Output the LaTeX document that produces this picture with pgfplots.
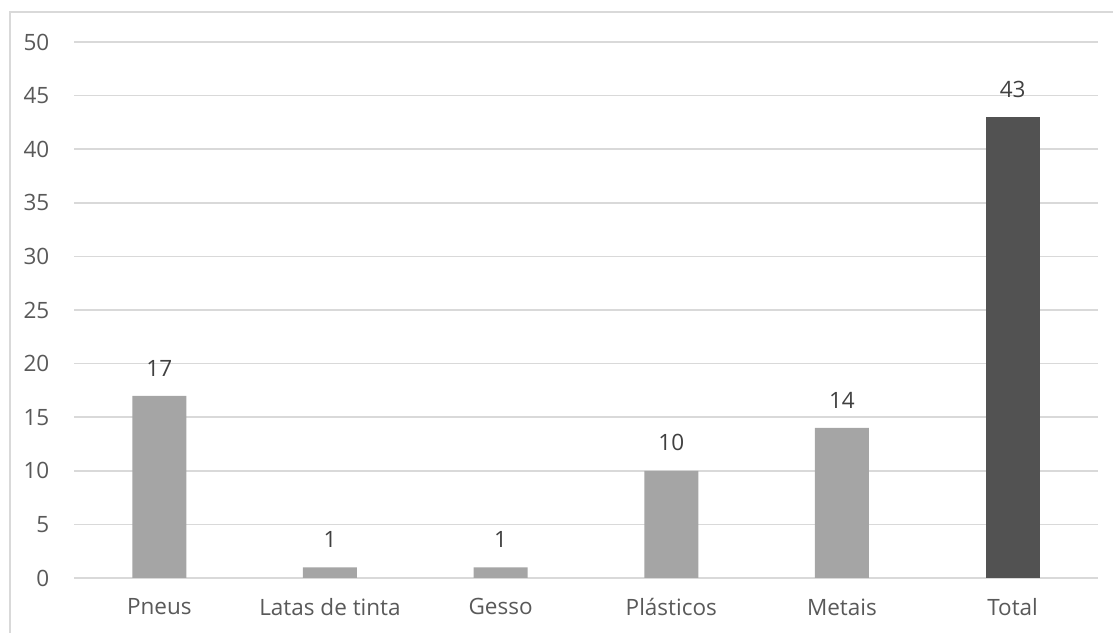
\documentclass[border=0pt]{standalone}
\usepackage{pgfplots}
\pgfplotsset{compat=1.18}
\usepackage{fontspec}
\setmainfont{Open Sans}
\definecolor{gridc}{HTML}{D9D9D9}
\definecolor{txt}{HTML}{595959}
\definecolor{lab}{HTML}{404040}
\definecolor{barA}{HTML}{A5A5A5}
\definecolor{barB}{HTML}{525252}
\newcommand{\cf}{\fontsize{22.5bp}{27bp}\selectfont}
\begin{document}
\cf
\begin{tikzpicture}
\useasboundingbox (0,0) rectangle (1113bp,633bp);
\draw[gridc, line width=1.5bp] (10bp,0) -- (10bp,621bp) -- (1113bp,621bp);
\begin{axis}[
  at={(74bp,55bp)}, anchor=south west,
  scale only axis, width=1024bp, height=536bp,
  xmin=-0.5, xmax=5.5, ymin=0, ymax=50,
  ytick={0,5,...,50},
  xtick={0,1,2,3,4,5},
  xticklabels={Pneus, Latas de tinta, Gesso, Plásticos, Metais, Total},
  ymajorgrids, grid style={gridc, line width=1.5bp},
  axis line style={draw=none},
  major tick length=0pt,
  tick label style={font=\cf, text=txt},
  yticklabel style={xshift=-17bp},
  xticklabel style={yshift=-13bp},
  /pgf/number format/assume math mode=true,
  ybar, bar width=54bp, bar shift=0pt,
  nodes near coords,
  every node near coord/.append style={font=\cf, text=lab, yshift=12bp},
  clip=false,
]
\addplot[fill=barA, draw=none] coordinates {(0,17) (1,1) (2,1) (3,10) (4,14)};
\addplot[fill=barB, draw=none] coordinates {(5,43)};
\end{axis}
\end{tikzpicture}
\end{document}
